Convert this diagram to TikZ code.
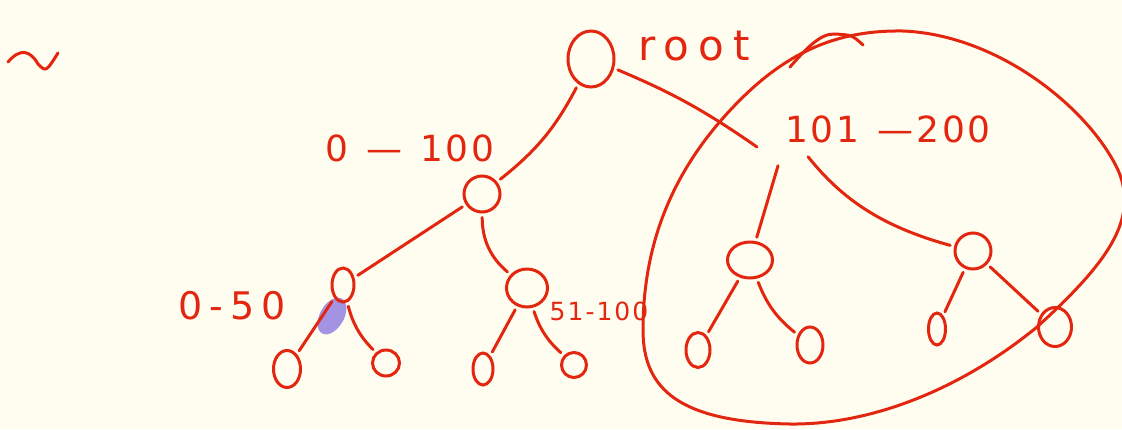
\documentclass[tikz,border=0pt]{standalone}
\usepackage{fontspec}
\newfontfamily\handfont[LetterSpace=8]{DejaVu Sans}
\usetikzlibrary{shapes.geometric}
\definecolor{inkred}{HTML}{E3260F}
\definecolor{paper}{HTML}{FFFDF0}
\definecolor{marker}{HTML}{A394E3}

\begin{document}
\begin{tikzpicture}[
  x=1pt, y=-1pt,
  % strokes
  stroke/.style={draw=inkred, line width=3pt, line cap=round, line join=round},
  edge/.style={stroke, shorten <=4pt, shorten >=4pt},
  % nodes
  nd/.style={ellipse, draw=inkred, line width=3pt, inner sep=0pt},
  lbl/.style={text=inkred, font=\handfont\fontsize{36}{38}\selectfont, inner sep=0pt}
]
  \fill[paper] (0,0) rectangle (1122,429);
  \useasboundingbox (0,0) rectangle (1122,429);

  % tilde
  \draw[stroke] (8,62) .. controls (20,48) and (30,50) .. (38,64) .. controls (46,72) .. (58,53);

  % marker highlight
  \fill[marker] (332,316) ellipse [x radius=12, y radius=20, rotate=-30];

  % ------------------------------
  % NODES
  % ------------------------------
  \node[nd, minimum width=46, minimum height=56] (root) at (591,59) {};
  \node[lbl, anchor=base west, font=\handfont\fontsize{42}{44}\selectfont\addfontfeature{LetterSpace=22}] (rootlbl) at (638,60) {root};

  \node[nd, minimum width=36, minimum height=36] (n0100) at (482,194) {};
  \node[lbl, anchor=base] (lbl0100) at (410,161) {0\enspace—\enspace100};

  \node[lbl, anchor=base] (r200) at (888,142) {101\enspace—200};
  \coordinate (r200in) at (757,147);

  \node[nd, minimum width=22, minimum height=34] (lc) at (343,285) {};
  \node[lbl, anchor=base, font=\handfont\fontsize{38}{40}\selectfont\addfontfeature{LetterSpace=18}] (lbl050) at (232,319) {0-50};
  \node[nd, minimum width=41, minimum height=38] (rc) at (527,288) {};
  \node[lbl, anchor=base, font=\handfont\fontsize{25}{27}\selectfont] (lbl51) at (599,320) {51-100};

  \node[nd, minimum width=27, minimum height=37] (ll1) at (287,369) {};
  \node[nd, minimum width=27, minimum height=26] (ll2) at (386,363) {};
  \node[nd, minimum width=20, minimum height=32] (ll3) at (483,369) {};
  \node[nd, minimum width=25, minimum height=25] (ll4) at (574,365) {};

  \node[nd, minimum width=45, minimum height=36] (rl) at (750,260) {};
  \node[nd, minimum width=36, minimum height=36] (rr) at (973,251) {};

  \node[nd, minimum width=24, minimum height=35] (rl1) at (698,350) {};
  \node[nd, minimum width=26, minimum height=36] (rl2) at (810,345) {};
  \node[nd, minimum width=17, minimum height=32] (rr1) at (937,329) {};
  \node[nd, minimum width=33, minimum height=39] (rr2) at (1055,327) {};

  % ------------------------------
  % EDGES
  % ------------------------------
  \draw[edge] (root) to[bend left=12] (n0100);
  \draw[edge, shorten >=0pt] (root) to[bend left=6] (r200in);

  \draw[edge] (n0100) -- (lc);
  \draw[edge] (n0100) to[bend right=25] (rc);

  \draw[edge] (lc) -- (ll1);
  \draw[edge] (lc) to[bend right=15] (ll2);
  \draw[edge] (rc) -- (ll3);
  \draw[edge] (rc) to[bend right=15] (ll4);

  \draw[edge, shorten <=24pt] (r200.south west) -- (rl);
  \draw[edge, shorten <=18pt] ([xshift=12pt]r200.south west) to[bend right=18] (rr);

  \draw[edge] (rl) -- (rl1);
  \draw[edge] (rl) to[bend right=15] (rl2);
  \draw[edge] (rr) -- (rr1);
  \draw[edge] (rr) -- (rr2);

  % ------------------------------
  % LOOP ROUND RIGHT SUBTREE
  % ------------------------------
  \draw[stroke] (903,31) .. controls (1000,35) and (1090,110) .. (1118,170)
    .. controls (1140,220) and (1105,265) .. (1037,327)
    .. controls (960,390) and (870,425) .. (790,424)
    .. controls (680,422) and (643,390) .. (643,330)
    .. controls (643,240) and (675,165) .. (740,100)
    .. controls (790,50) and (840,30) .. (903,31);
  \draw[stroke] (790,67) .. controls (805,50) and (820,33) .. (835,34) .. controls (852,35) .. (863,45);
\end{tikzpicture}
\end{document}
